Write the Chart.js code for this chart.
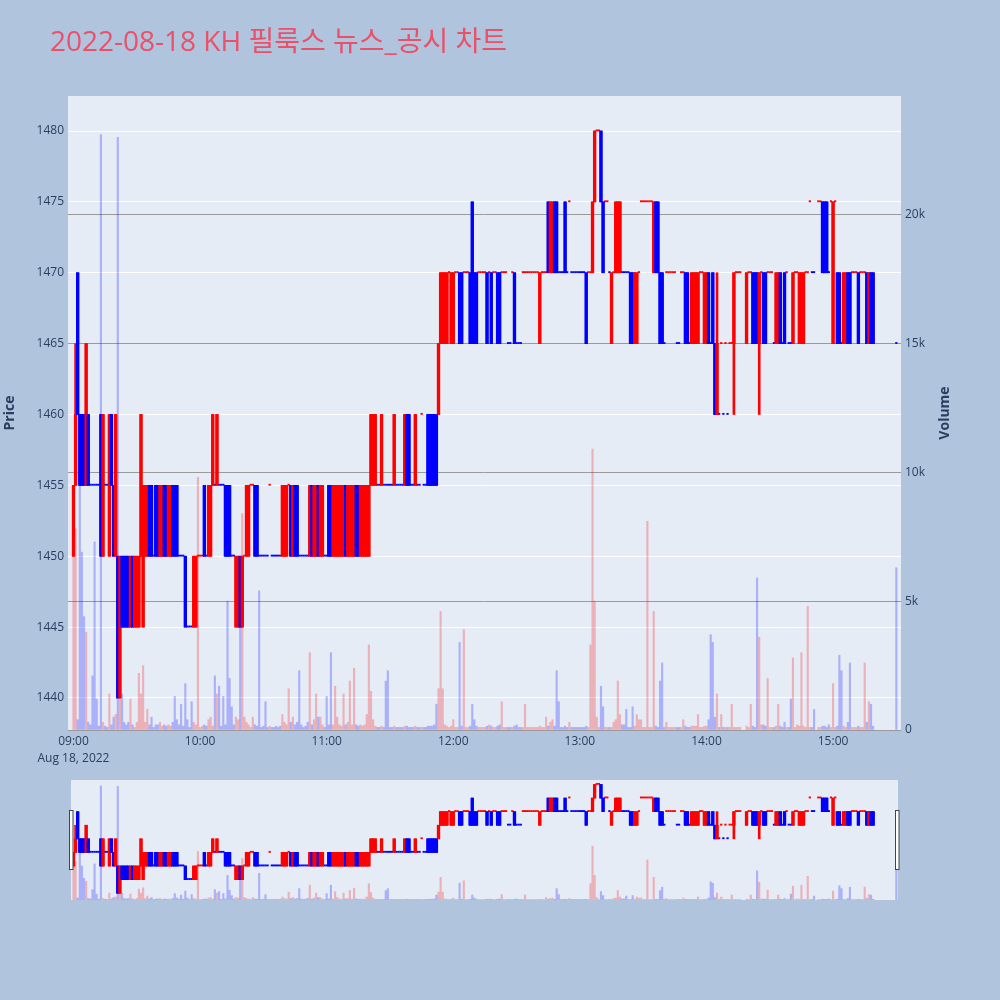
<!DOCTYPE html>
<html>
<head>
<meta charset="utf-8">
<script src="https://cdn.jsdelivr.net/npm/chart.js@4"></script>
<style>
  body { margin: 0; background: #b0c4de; }
  #wrap { position: relative; width: 1000px; height: 1000px; }
  #wrap canvas { position: absolute; left: 0; }
</style>
</head>
<body>
<div id="wrap">
  <canvas id="mainChart" width="1000" height="1000" style="top:0"></canvas>
  <canvas id="sliderChart" width="1000" height="120" style="top:780px"></canvas>
</div>
<script>
// 1분봉, 인덱스 = 09:00 이후 경과 분 (null = 거래 없음)
var opens = [
  1450,1455,1470,1460,1460,1460,1455,1460,1455,1455, 1455,1455,1455,1460,1450,1455,1455,1450,1460,1455,
  1450,1450,1440,1450,1450,1450,1450,1445,1450,1445, 1445,1445,1450,1445,1450,1450,1455,1455,1450,1455,
  1455,1450,1450,1455,1455,1450,1450,1455,1455,1455, 1450,1450,1450,1450,1445,1445,1445,1445,1445,1450,
  1450,1450,1455,1450,1450,1450,1455,1455,1455,1455, 1455,1455,1455,1455,1455,1450,1450,1445,1445,1450,
  1445,1450,1450,1450,1455,1455,1455,1455,1450,1450, 1450,1450,1450,1455,1450,1450,1450,1450,1450,1450,
  1450,1450,1455,1455,1450,1455,1455,1450,1450,1450, 1450,1450,1450,1455,1450,1450,1455,1450,1450,1450,
  1450,1455,1455,1450,1450,1450,1450,1450,1450,1455, 1450,1450,1450,1450,1455,1455,1450,1450,1450,1450,
  1450,1455,1455,1455,1455,1455,1455,1455,1455,1455, 1455,1455,1455,1455,1455,1455,1455,1455,1460,1460,
  1455,1455,1455,1455,1455,1460,1455,1455,1460,1460, 1460,1460,1460,1460,1465,1465,1465,1465,1470,1465,
  1465,1470,1470,1470,1470,1470,1470,1470,1470,1475, 1470,1470,1470,1470,1470,1470,1470,1470,1470,1470,
  1470,1470,1470,1470,1470,1470,1465,1465,1470,1470, 1465,1465,1465,1470,1470,1470,1470,1470,1470,1470,
  1470,1465,1470,1470,1470,1475,1470,1470,1475,1475, 1470,1470,1470,1475,1470,1475,1470,1470,1470,1470,
  1470,1470,1470,1470,1470,1470,1470,1475,1480,1480, 1480,1475,1475,1475,1470,1465,1470,1470,1470,1470,
  1470,1470,1470,1470,1470,1470,1465,1465,1470,1475, 1475,1475,1475,1475,1475,1470,1475,1475,1470,1470,
  1465,1470,1470,1470,1470,1470,1465,1465,1470,1470, 1470,1470,1465,1465,1465,1465,1465,1470,1470,1465,
  1465,1470,1465,1470,1465,1460,1460,1465,1460,1465, 1460,1465,1465,1465,1470,1470,1470,null,null,1465,
  1470,1470,1470,1470,1470,1465,1470,1470,1470,1470, 1470,1470,1465,1465,1465,1470,1465,1470,1470,1465,
  1465,1465,1470,1470,1465,1465,1465,1470,1470,1475, 1470,1470,null,1475,1475,1475,1475,1475,1470,1475,
  1465,1475,1470,1470,1465,1465,1465,1470,1470,1470, 1470,1470,1470,1470,1470,1470,1470,1465,1470,1470,
  null,null,null,null,null,null,null,null,null,null, 1465
];
var highs = [
  1455,1465,1470,1460,1460,1460,1465,1460,1455,1455, 1455,1455,1455,1460,1460,1455,1455,1460,1460,1455,
  1460,1450,1450,1450,1450,1450,1450,1450,1450,1450, 1450,1450,1460,1455,1455,1455,1455,1455,1450,1455,
  1455,1455,1455,1455,1455,1455,1455,1455,1455,1455, 1450,1450,1450,1450,1445,1445,1445,1450,1450,1450,
  1450,1450,1455,1450,1455,1455,1460,1455,1460,1455, 1455,1455,1455,1455,1455,1450,1450,1450,1450,1450,
  1450,1450,1455,1455,1455,1455,1455,1455,1450,1450, 1450,1450,1450,1455,1450,1450,1450,1450,1450,1455,
  1455,1455,1455,1455,1455,1455,1455,1450,1450,1450, 1450,1450,1455,1455,1455,1455,1455,1455,1455,1450,
  1450,1455,1455,1455,1455,1455,1455,1455,1455,1455, 1455,1455,1455,1455,1455,1455,1455,1455,1455,1455,
  1455,1460,1460,1460,1455,1455,1460,1455,1455,1455, 1455,1455,1460,1455,1455,1455,1455,1460,1460,1460,
  1455,1455,1460,1455,1455,1460,1455,1455,1460,1460, 1460,1460,1460,1465,1470,1470,1470,1470,1470,1470,
  1470,1470,1470,1470,1470,1470,1470,1470,1470,1475, 1470,1470,1470,1470,1470,1470,1470,1470,1470,1470,
  1470,1470,1470,1470,1470,1470,1465,1465,1470,1470, 1465,1465,1465,1470,1470,1470,1470,1470,1470,1470,
  1470,1470,1470,1470,1470,1475,1475,1475,1475,1475, 1470,1470,1470,1475,1470,1475,1470,1470,1470,1470,
  1470,1470,1470,1470,1470,1470,1475,1480,1480,1480, 1480,1475,1475,1475,1470,1470,1470,1475,1475,1475,
  1470,1470,1470,1470,1470,1470,1470,1470,1470,1475, 1475,1475,1475,1475,1475,1475,1475,1475,1470,1470,
  1465,1470,1470,1470,1470,1470,1465,1465,1470,1470, 1470,1470,1465,1470,1470,1470,1470,1470,1470,1470,
  1470,1470,1465,1470,1465,1470,1460,1465,1460,1465, 1460,1465,1465,1470,1470,1470,1470,null,null,1470,
  1470,1470,1470,1470,1470,1470,1470,1470,1470,1470, 1470,1470,1465,1470,1470,1470,1465,1470,1470,1465,
  1465,1470,1470,1470,1470,1470,1470,1470,1470,1475, 1470,1470,null,1475,1475,1475,1475,1475,1470,1475,
  1475,1475,1470,1470,1465,1470,1470,1470,1470,1470, 1470,1470,1470,1470,1470,1470,1470,1470,1470,1470,
  null,null,null,null,null,null,null,null,null,null, 1465
];
var lows = [
  1450,1455,1460,1455,1455,1455,1455,1455,1455,1455, 1455,1455,1455,1450,1450,1455,1455,1450,1455,1450,
  1450,1440,1440,1445,1445,1445,1445,1445,1445,1445, 1445,1445,1450,1445,1450,1450,1450,1450,1450,1450,
  1450,1450,1450,1450,1450,1450,1450,1450,1450,1450, 1450,1450,1450,1445,1445,1445,1445,1445,1445,1450,
  1450,1450,1450,1450,1450,1450,1455,1455,1455,1455, 1455,1455,1450,1450,1450,1450,1450,1445,1445,1445,
  1445,1450,1450,1450,1455,1455,1450,1450,1450,1450, 1450,1450,1450,1455,1450,1450,1450,1450,1450,1450,
  1450,1450,1455,1450,1450,1450,1450,1450,1450,1450, 1450,1450,1450,1450,1450,1450,1450,1450,1450,1450,
  1450,1450,1450,1450,1450,1450,1450,1450,1450,1450, 1450,1450,1450,1450,1450,1450,1450,1450,1450,1450,
  1450,1455,1455,1455,1455,1455,1455,1455,1455,1455, 1455,1455,1455,1455,1455,1455,1455,1455,1455,1455,
  1455,1455,1455,1455,1455,1460,1455,1455,1455,1455, 1455,1455,1455,1460,1465,1465,1465,1465,1470,1465,
  1465,1470,1470,1465,1465,1470,1470,1470,1465,1465, 1465,1465,1470,1470,1470,1470,1465,1470,1465,1470,
  1470,1465,1465,1470,1470,1470,1465,1465,1470,1465, 1465,1465,1465,1470,1470,1470,1470,1470,1470,1470,
  1470,1465,1470,1470,1470,1470,1470,1470,1470,1470, 1470,1470,1470,1470,1470,1475,1470,1470,1470,1470,
  1470,1470,1470,1465,1470,1470,1470,1475,1480,1480, 1475,1470,1475,1475,1470,1465,1470,1470,1470,1470,
  1470,1470,1470,1470,1465,1465,1465,1465,1470,1475, 1475,1475,1475,1475,1475,1470,1470,1470,1465,1465,
  1465,1470,1470,1470,1470,1470,1465,1465,1470,1470, 1465,1465,1465,1465,1465,1465,1465,1470,1470,1465,
  1465,1465,1465,1465,1460,1460,1460,1465,1460,1465, 1460,1465,1465,1460,1470,1470,1470,null,null,1465,
  1470,1470,1465,1465,1465,1460,1470,1465,1465,1470, 1470,1470,1465,1465,1465,1465,1465,1465,1470,1465,
  1465,1465,1470,1470,1465,1465,1465,1470,1470,1475, 1470,1470,null,1475,1475,1470,1470,1470,1470,1475,
  1465,1475,1465,1465,1465,1465,1465,1465,1465,1470, 1470,1470,1465,1470,1470,1470,1465,1465,1465,1465,
  null,null,null,null,null,null,null,null,null,null, 1465
];
var closes = [
  1455,1460,1460,1455,1455,1455,1465,1455,1455,1455, 1455,1455,1455,1450,1460,1455,1455,1460,1455,1450,
  1460,1440,1450,1445,1445,1445,1445,1450,1445,1450, 1450,1450,1460,1455,1455,1455,1450,1450,1450,1450,
  1450,1455,1455,1450,1450,1455,1455,1450,1450,1450, 1450,1450,1450,1445,1445,1445,1445,1450,1450,1450,
  1450,1450,1450,1450,1455,1455,1460,1455,1460,1455, 1455,1455,1450,1450,1450,1450,1450,1450,1450,1445,
  1450,1450,1455,1455,1455,1455,1450,1450,1450,1450, 1450,1450,1450,1455,1450,1450,1450,1450,1450,1455,
  1455,1455,1455,1450,1455,1450,1450,1450,1450,1450, 1450,1450,1455,1450,1455,1455,1450,1455,1455,1450,
  1450,1450,1450,1455,1455,1455,1455,1455,1455,1450, 1455,1455,1455,1455,1450,1450,1455,1455,1455,1455,
  1455,1460,1460,1460,1455,1455,1460,1455,1455,1455, 1455,1455,1460,1455,1455,1455,1455,1460,1455,1455,
  1455,1455,1460,1455,1455,1460,1455,1455,1455,1455, 1455,1455,1455,1465,1470,1470,1470,1470,1470,1470,
  1470,1470,1470,1465,1465,1470,1470,1470,1465,1465, 1465,1465,1470,1470,1470,1470,1465,1470,1465,1470,
  1470,1465,1465,1470,1470,1470,1465,1465,1470,1465, 1465,1465,1465,1470,1470,1470,1470,1470,1470,1470,
  1470,1470,1470,1470,1470,1470,1475,1475,1470,1470, 1470,1470,1470,1470,1470,1475,1470,1470,1470,1470,
  1470,1470,1470,1465,1470,1470,1475,1480,1480,1480, 1475,1470,1475,1475,1470,1470,1470,1475,1475,1475,
  1470,1470,1470,1470,1465,1465,1470,1470,1470,1475, 1475,1475,1475,1475,1475,1475,1470,1470,1465,1465,
  1465,1470,1470,1470,1470,1470,1465,1465,1470,1470, 1465,1465,1465,1470,1470,1470,1470,1470,1470,1470,
  1470,1465,1465,1465,1460,1465,1460,1465,1460,1465, 1460,1465,1465,1470,1470,1470,1470,null,null,1470,
  1470,1470,1465,1465,1465,1470,1470,1465,1465,1470, 1470,1470,1465,1470,1470,1465,1465,1465,1470,1465,
  1465,1470,1470,1470,1470,1470,1470,1470,1470,1475, 1470,1470,null,1475,1475,1470,1470,1470,1470,1475,
  1475,1475,1465,1465,1465,1470,1470,1465,1465,1470, 1470,1470,1465,1470,1470,1470,1465,1470,1465,1465,
  null,null,null,null,null,null,null,null,null,null, 1465
];
var volumes = [
  7300,7800,400,11100,6900,4400,3800,300,200,2100, 7300,1200,150,23100,300,150,100,1400,200,500,
  600,23000,1400,1400,300,200,300,1200,200,100, 300,2200,1400,2500,300,800,200,500,100,200,
  200,300,150,200,150,200,150,300,1300,400, 200,1000,150,1800,400,100,1100,300,200,9800,
  100,150,200,150,400,500,150,2100,1400,1700, 150,1300,200,5000,2000,900,200,500,400,5100,
  8400,500,300,200,100,500,200,150,5400,100, 150,1100,100,150,100,100,150,100,150,600,
  300,200,1600,300,500,200,300,2300,200,100, 150,300,3000,200,400,1400,500,500,200,100,
  1300,200,3000,200,1700,500,200,150,1400,200, 300,1900,200,2400,200,150,200,150,200,600,
  3300,1500,400,150,100,100,150,100,1900,2300, 100,100,150,100,100,100,100,150,150,100,
  100,100,150,100,100,100,100,100,150,150, 150,200,1000,1600,4600,1600,200,150,100,150,
  400,100,100,3400,150,3900,100,100,150,1000, 400,150,100,100,100,100,150,200,150,100,
  100,150,200,1100,100,100,100,100,100,150, 200,100,100,100,1000,100,100,100,100,100,
  100,150,100,100,500,150,300,400,150,2300, 1100,100,100,150,100,300,100,100,100,100,
  100,100,100,150,100,3300,10900,5000,500,100, 1700,900,100,100,100,100,300,400,1900,600,
  200,200,800,100,100,900,150,600,400,400, 100,100,8100,100,100,4600,150,100,1900,2600,
  100,300,100,100,100,100,100,100,100,400, 150,100,100,150,150,150,600,100,100,150,
  150,400,3700,3400,500,1400,100,600,100,100, 100,100,1000,100,100,100,100,null,null,150,
  100,1000,150,100,5900,3600,200,200,150,2000, 100,100,100,150,1000,150,100,300,100,100,
  1200,2800,100,200,150,3000,150,100,4800,100, 100,800,null,100,100,150,150,100,200,100,
  1800,100,150,2900,2300,150,100,300,2600,100, 100,100,150,100,100,2600,300,1100,1000,150,
  null,null,null,null,null,null,null,null,null,null, 6300
];
var priceTicks = [1440, 1445, 1450, 1455, 1460, 1465, 1470, 1475, 1480];
var volumeTicks = [0, 5000, 10000, 15000, 20000];
var timeTicks = [0, 60, 120, 180, 240, 300, 360];

var TITLE = '2022-08-18 KH 필룩스 뉴스_공시 차트';
var FONT = '"Open Sans", "Noto Sans CJK KR", sans-serif';
var TXT = '#2a3f5f';
var UP = '#ff0000', DOWN = '#0000ff';

// 봉 방향 (보합은 직전 종가와 비교)
var dirs = [];
var prevC = null, prevUp = true;
for (var i = 0; i < opens.length; i++) {
  if (opens[i] === null) { dirs.push(null); continue; }
  var up;
  if (closes[i] > opens[i]) up = true;
  else if (closes[i] < opens[i]) up = false;
  else if (prevC !== null && closes[i] !== prevC) up = closes[i] > prevC;
  else up = prevUp;
  dirs.push(up);
  prevC = closes[i];
  prevUp = up;
}

function pad(n) { return (n < 10 ? '0' : '') + n; }
function timeLabel(v) { return pad(9 + Math.floor(v / 60)) + ':' + pad(v % 60); }

function buildDatasets() {
  var bodies = [], flats = [], wicks = [], vols = [];
  var bodyCol = [], flatCol = [], wickCol = [], volCol = [];
  for (var i = 0; i < opens.length; i++) {
    if (opens[i] === null) continue;
    var c = dirs[i] ? UP : DOWN;
    if (opens[i] === closes[i]) {
      flats.push({ x: i, y: [opens[i], closes[i]] });
      flatCol.push(c);
    } else {
      bodies.push({ x: i, y: [opens[i], closes[i]] });
      bodyCol.push(c);
    }
    if (highs[i] !== lows[i]) {
      wicks.push({ x: i, y: [lows[i], highs[i]] });
      wickCol.push(c);
    }
    vols.push({ x: i, y: volumes[i] });
    volCol.push(dirs[i] ? 'rgba(255,0,0,0.25)' : 'rgba(0,0,255,0.25)');
  }
  return [
    { data: vols, yAxisID: 'yv', backgroundColor: volCol, barThickness: 1.5, grouped: false, order: 4 },
    { data: wicks, yAxisID: 'y', backgroundColor: wickCol, barThickness: 2, grouped: false, order: 3 },
    { data: flats, yAxisID: 'y', backgroundColor: flatCol, barThickness: 1.6, minBarLength: 1.2, grouped: false, order: 2 },
    { data: bodies, yAxisID: 'y', backgroundColor: bodyCol, barThickness: 2.7, grouped: false, order: 1 }
  ];
}

var X_MIN = -2.6, X_MAX = 392.2;

// 메인 차트
var mainDecor = {
  id: 'mainDecor',
  beforeDraw: function(chart) {
    var a = chart.chartArea, ctx = chart.ctx;
    ctx.save();
    ctx.fillStyle = '#e5ecf6';
    ctx.fillRect(a.left, a.top, a.right - a.left, a.bottom - a.top);
    ctx.restore();
  },
  afterDraw: function(chart) {
    var ctx = chart.ctx;
    ctx.save();
    ctx.fillStyle = 'rgb(235,80,105)';
    ctx.font = '28px ' + FONT;
    ctx.textBaseline = 'alphabetic';
    ctx.fillText(TITLE, 50, 51);
    ctx.translate(945, 413);
    ctx.rotate(-Math.PI / 2);
    ctx.fillStyle = TXT;
    ctx.font = 'bold 14px ' + FONT;
    ctx.textAlign = 'center';
    ctx.textBaseline = 'middle';
    ctx.fillText('Volume', 0, 0);
    ctx.restore();
  }
};

new Chart(document.getElementById('mainChart'), {
  type: 'bar',
  data: { datasets: buildDatasets() },
  options: {
    responsive: false,
    animation: false,
    devicePixelRatio: 1,
    events: [],
    layout: { padding: { top: 96, left: 0, right: 45, bottom: 0 } },
    plugins: { legend: { display: false }, tooltip: { enabled: false } },
    scales: {
      x: {
        type: 'linear', position: 'bottom', min: X_MIN, max: X_MAX, offset: false,
        grid: { display: false, drawTicks: false },
        border: { display: false },
        afterBuildTicks: function(s) { s.ticks = timeTicks.map(function(v) { return { value: v }; }); },
        afterFit: function(s) { s.height = 270; },
        ticks: {
          padding: 3, maxRotation: 0, autoSkip: false, color: TXT,
          font: { family: FONT, size: 12, lineHeight: 1.4 },
          callback: function(v) { return v === 0 ? ['09:00', 'Aug 18, 2022'] : timeLabel(v); }
        }
      },
      y: {
        position: 'left', min: 1437.74, max: 1482.47,
        grid: { color: '#ffffff', lineWidth: 1, drawTicks: false },
        border: { display: false },
        afterBuildTicks: function(s) { s.ticks = priceTicks.map(function(v) { return { value: v }; }); },
        afterFit: function(s) { s.width = 68; },
        ticks: { padding: 4, color: TXT, font: { family: FONT, size: 12 },
                 callback: function(v) { return String(v); } },
        title: { display: true, text: 'Price', color: TXT, padding: { top: 2, bottom: 0 },
                 font: { family: FONT, size: 14, weight: 'bold' } }
      },
      yv: {
        position: 'right', min: 0, max: 24600,
        grid: { color: '#9a9a9a', lineWidth: 1, drawTicks: false },
        border: { display: false },
        afterBuildTicks: function(s) { s.ticks = volumeTicks.map(function(v) { return { value: v }; }); },
        afterFit: function(s) { s.width = 54; },
        ticks: { padding: 4, color: TXT, font: { family: FONT, size: 12 },
                 callback: function(v) { return v === 0 ? '0' : (v / 1000) + 'k'; } }
      }
    }
  },
  plugins: [mainDecor]
});

// 레인지 슬라이더
var sliderDecor = {
  id: 'sliderDecor',
  beforeDraw: function(chart) {
    var ctx = chart.ctx;
    ctx.save();
    ctx.fillStyle = '#e5ecf6';
    ctx.fillRect(71, 0, 827, 120);
    ctx.restore();
  },
  afterDraw: function(chart) {
    var ctx = chart.ctx;
    ctx.save();
    ctx.fillStyle = '#ffffff';
    ctx.strokeStyle = '#444444';
    ctx.lineWidth = 1;
    [69.5, 895.5].forEach(function(x) {
      ctx.fillRect(x, 30.5, 3.5, 59);
      ctx.strokeRect(x, 30.5, 3.5, 59);
    });
    ctx.restore();
  }
};

new Chart(document.getElementById('sliderChart'), {
  type: 'bar',
  data: { datasets: buildDatasets() },
  options: {
    responsive: false,
    animation: false,
    devicePixelRatio: 1,
    events: [],
    layout: { padding: { top: 0, left: 68, right: 99, bottom: 0 } },
    plugins: { legend: { display: false }, tooltip: { enabled: false } },
    scales: {
      x: { type: 'linear', display: false, min: X_MIN, max: X_MAX, offset: false },
      y: { display: false, min: 1437.5, max: 1481.65 },
      yv: { display: false, min: 0, max: 24300 }
    }
  },
  plugins: [sliderDecor]
});
</script>
</body>
</html>
